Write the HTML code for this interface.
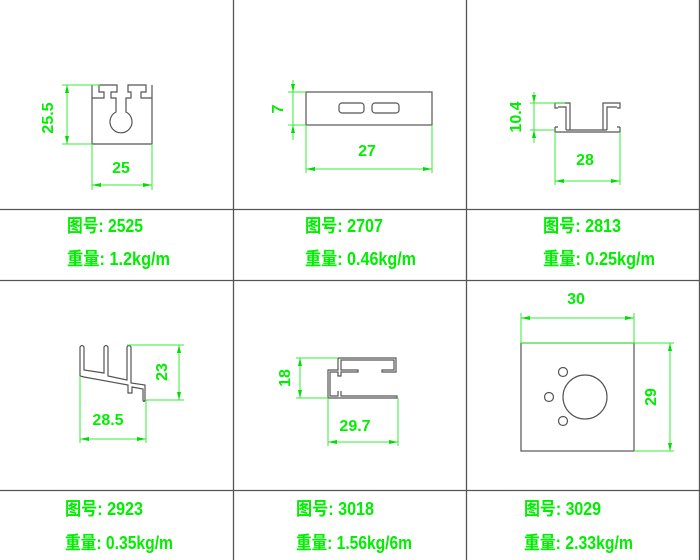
<!DOCTYPE html>
<html><head><meta charset="utf-8"><style>
html,body{margin:0;padding:0;background:#fff}
svg{display:block}
text{font-family:"Liberation Sans","Noto Sans CJK SC",sans-serif;fill:#00ee00}
.t{font-size:18px;font-weight:bold}
.d{font-size:16px;font-weight:bold}
.g{stroke:#33ee33;stroke-width:1;fill:none}
.k{stroke:#555;stroke-width:1.2;fill:none}
.a{fill:#00dd00}
</style></head><body>
<svg width="700" height="560" viewBox="0 0 700 560" xmlns="http://www.w3.org/2000/svg">
<g stroke="#555" stroke-width="1.3">
<line x1="233.5" y1="0" x2="233.5" y2="560"/>
<line x1="466.5" y1="0" x2="466.5" y2="560"/>
<line x1="0" y1="209.5" x2="700" y2="209.5"/>
<line x1="0" y1="280.5" x2="700" y2="280.5"/>
<line x1="0" y1="490.5" x2="700" y2="490.5"/>
<line x1="699.5" y1="0" x2="699.5" y2="560"/>
</g>

<!-- 2525 -->
<path class="k" d="M92,144 V85 M152,85 V144 H92 M92,98 H104 V92 H99 V85 H117 V92 H111 V98 H116 V112 A11,11 0 1 0 126,112 V98 H131 V92 H128 V85 H146 V92 H141 V98 H152"/>
<path class="g" d="M62,85 H100 M62,144 H92 M67,85 V144 M92,144 V190 M152,144 V190 M92,185 H152"/>
<path class="a" d="M67,85 l-2,8 h4z M67,144 l-2,-8 h4z M92,185 l9,-2 v4z M152,185 l-9,-2 v4z"/>
<text class="d" x="48" y="118" transform="rotate(-90 48 118)" text-anchor="middle" dy="5">25.5</text>
<text class="d" x="121" y="173" text-anchor="middle">25</text>

<!-- 2707 -->
<rect class="k" x="306" y="92" width="126" height="33"/>
<rect class="k" x="339" y="103" width="25" height="10" rx="3"/>
<rect class="k" x="372" y="103" width="27" height="10" rx="3"/>
<path class="g" d="M288,92 H306 M288,125 H306 M293,80 V140 M306,125 V173 M432,125 V173 M306,169 H432"/>
<path class="a" d="M293,92 l-2,-8 h4z M293,125 l-2,8 h4z M306,169 l9,-2 v4z M432,169 l-9,-2 v4z"/>
<text class="d" x="278" y="109" transform="rotate(-90 278 109)" text-anchor="middle" dy="5">7</text>
<text class="d" x="367" y="156" text-anchor="middle">27</text>

<!-- 2813 -->
<path class="k" d="M558,108 H555 V103 H570 V130 M566,130 V107 H558 M617,108 H620 V103 H603 V130 M607,130 V107 H617 M555,127 H558 M620,127 H617 M555,127 V132 H620 V127 M566,130 H607"/>
<path class="g" d="M530,103 H565 M530,130 H555 M534,92 V143 M555,132 V185 M620,132 V185 M555,181 H620"/>
<path class="a" d="M534,103 l-2,-8 h4z M534,130 l-2,8 h4z M555,181 l9,-2 v4z M620,181 l-9,-2 v4z"/>
<text class="d" x="516" y="117" transform="rotate(-90 516 117)" text-anchor="middle" dy="5">10.4</text>
<text class="d" x="585" y="165" text-anchor="middle">28</text>

<!-- 2923 -->
<path class="k" d="M80,376 V347 Q82,344 84,347 V370 L104,373 V347 Q106,344 108,347 V376 L127,380 V347 Q129,344 131,347 V383 L145,385 V400 Q144,403 143,400 V389 L132,387 V393 H128 V385 L84,377 Z"/>
<path class="g" d="M127,345 H184 M146,400 H184 M179,345 V400 M80,376 V443 M146,400 V443 M80,439 H146"/>
<path class="a" d="M179,345 l-2,8 h4z M179,400 l-2,-8 h4z M80,439 l9,-2 v4z M146,439 l-9,-2 v4z"/>
<text class="d" x="162" y="372" transform="rotate(-90 162 372)" text-anchor="middle" dy="5">23</text>
<text class="d" x="108" y="425" text-anchor="middle">28.5</text>

<!-- 3018 -->
<path class="k" d="M338,358 H396 V372 H382 V370 H394 V360 H341 V370 H358 V372 H341 V376 H338 V372 H330 V396 H338 V391 M341,391 V396 H397 V398 H328 V370 H338 V358"/>
<path class="g" d="M296,358 H338 M296,398 H328 M300,358 V398 M328,398 V446 M398,398 V446 M328,442 H398"/>
<path class="a" d="M300,358 l-2,8 h4z M300,398 l-2,-8 h4z M328,442 l9,-2 v4z M398,442 l-9,-2 v4z"/>
<text class="d" x="285" y="378" transform="rotate(-90 285 378)" text-anchor="middle" dy="5">18</text>
<text class="d" x="355" y="431" text-anchor="middle">29.7</text>

<!-- 3029 -->
<rect class="k" x="521" y="343" width="113" height="108"/>
<circle class="k" cx="585" cy="397" r="22"/>
<circle class="k" cx="563" cy="372" r="4.5"/>
<circle class="k" cx="549" cy="397" r="4.5"/>
<circle class="k" cx="563" cy="421" r="4.5"/>
<path class="g" d="M521,343 H674 M634,451 H674 M670,343 V451 M521,313 V343 M634,313 V343 M521,318 H634"/>
<path class="a" d="M670,343 l-2,8 h4z M670,451 l-2,-8 h4z M521,318 l9,-2 v4z M634,318 l-9,-2 v4z"/>
<text class="d" x="651" y="397" transform="rotate(-90 651 397)" text-anchor="middle" dy="5">29</text>
<text class="d" x="576" y="304" text-anchor="middle">30</text>

<g class="t">
<text x="67" y="232" textLength="76" lengthAdjust="spacingAndGlyphs">图号: 2525</text>
<text x="67" y="265" textLength="103" lengthAdjust="spacingAndGlyphs">重量: 1.2kg/m</text>
<text x="305" y="232" textLength="78" lengthAdjust="spacingAndGlyphs">图号: 2707</text>
<text x="305" y="265" textLength="111" lengthAdjust="spacingAndGlyphs">重量: 0.46kg/m</text>
<text x="543" y="232" textLength="78" lengthAdjust="spacingAndGlyphs">图号: 2813</text>
<text x="543" y="265" textLength="112" lengthAdjust="spacingAndGlyphs">重量: 0.25kg/m</text>
<text x="65" y="515" textLength="78" lengthAdjust="spacingAndGlyphs">图号: 2923</text>
<text x="65" y="549" textLength="108" lengthAdjust="spacingAndGlyphs">重量: 0.35kg/m</text>
<text x="296" y="515" textLength="78" lengthAdjust="spacingAndGlyphs">图号: 3018</text>
<text x="296" y="549" textLength="116" lengthAdjust="spacingAndGlyphs">重量: 1.56kg/6m</text>
<text x="524" y="515" textLength="77" lengthAdjust="spacingAndGlyphs">图号: 3029</text>
<text x="524" y="549" textLength="109" lengthAdjust="spacingAndGlyphs">重量: 2.33kg/m</text>
</g>
</svg>
</body></html>
